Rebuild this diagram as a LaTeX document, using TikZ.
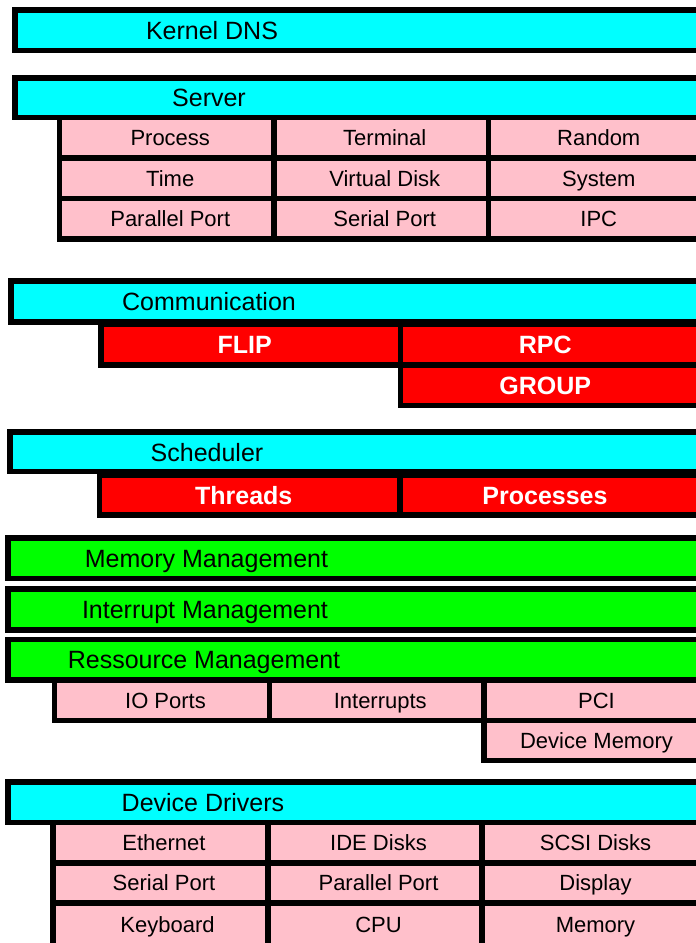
\documentclass[tikz,border=0pt]{standalone}
\usepackage{fontspec}
\setmainfont{Liberation Sans}
\usetikzlibrary{fit}
\definecolor{hcyan}{RGB}{0,255,255}
\definecolor{hpink}{RGB}{255,192,203}
\definecolor{hred}{RGB}{255,0,0}
\definecolor{hgreen}{RGB}{0,255,0}
\tikzset{
  box/.style={draw=black, line width=5.5pt, inner sep=0pt, outer sep=0pt},
  hdr/.style={box, fill=hcyan},
  gbox/.style={box, fill=hgreen},
  pbox/.style={box, fill=hpink},
  rbox/.style={box, fill=hred},
  htext/.style={font=\fontsize{25}{30}\selectfont, text=black, inner sep=0pt, text height=18pt, text depth=0pt},
  ptext/.style={font=\fontsize{22}{26}\selectfont, text=black, inner sep=0pt, text height=15.8pt, text depth=0pt, xshift=3.5pt},
  rtext/.style={font=\fontsize{25}{30}\selectfont\bfseries, text=white, inner sep=0pt, text height=18pt, text depth=0pt, xshift=-6pt},
}
\newcommand\cellbox[6]{\node[#6, fit={(#2,#3) (#4,#5)}] (#1) {};}
\newcommand\pcell[6]{\node[pbox, fit={(#2,#3) (#4,#5)}, label={[ptext]center:#6}] (#1) {};}
\newcommand\rcell[6]{\node[rbox, fit={(#2,#3) (#4,#5)}, label={[rtext]center:#6}] (#1) {};}
\begin{document}
\begin{tikzpicture}[x=1pt,y=-1pt]
\useasboundingbox (0,0) rectangle (696,943);
\clip (0,0) rectangle (696,943);

% Kernel DNS
\cellbox{kdns}{14.75}{9.75}{702}{50.25}{hdr}
\node[htext] (tkdns) at (212,30) {Kernel DNS};

% Server
\cellbox{server}{14.75}{77.75}{702}{117.5}{hdr}
\node[htext] (tserver) at (209,97.6) {Server};
\pcell{s11}{59.5}{117.5}{274}{158}{Process}
\pcell{s12}{274}{117.5}{488.5}{158}{Terminal}
\pcell{s13}{488.5}{117.5}{702}{158}{Random}
\pcell{s21}{59.5}{158}{274}{198.5}{Time}
\pcell{s22}{274}{158}{488.5}{198.5}{Virtual Disk}
\pcell{s23}{488.5}{158}{702}{198.5}{System}
\pcell{s31}{59.5}{198.5}{274}{239}{Parallel Port}
\pcell{s32}{274}{198.5}{488.5}{239}{Serial Port}
\pcell{s33}{488.5}{198.5}{702}{239}{IPC}

% Communication
\cellbox{comm}{10.75}{281}{702}{322}{hdr}
\node[htext] (tcomm) at (209,301.5) {Communication};
\rcell{flip}{101}{324.25}{400.5}{365}{FLIP}
\rcell{rpc}{400.5}{324.25}{702}{365}{RPC}
\rcell{group}{400.5}{365}{702}{405.5}{GROUP}

% Scheduler
\cellbox{sched}{9.75}{432}{702}{471.5}{hdr}
\node[htext] (tsched) at (207,452) {Scheduler};
\rcell{threads}{99.5}{475.25}{400}{515}{Threads}
\rcell{procs}{400}{475.25}{702}{515}{Processes}

% Management layers
\cellbox{mem}{8}{538}{702}{578.5}{gbox}
\node[htext] (tmem) at (206.5,558.25) {Memory Management};
\cellbox{intm}{8}{589}{702}{630}{gbox}
\node[htext] (tint) at (205,609.5) {Interrupt Management};
\cellbox{res}{8}{639.5}{702}{680}{gbox}
\node[htext] (tres) at (204,659.75) {Ressource Management};
\pcell{r11}{54.5}{680}{269.5}{720.5}{IO Ports}
\pcell{r12}{269.5}{680}{484}{720.5}{Interrupts}
\pcell{r13}{484}{680}{702}{720.5}{PCI}
\pcell{r23}{484}{720.5}{702}{760.5}{Device Memory}

% Device Drivers
\cellbox{dd}{8}{782}{702}{822.5}{hdr}
\node[htext] (tdd) at (203,802.25) {Device Drivers};
\pcell{d11}{53}{822.5}{268}{863}{Ethernet}
\pcell{d12}{268}{822.5}{482}{863}{IDE Disks}
\pcell{d13}{482}{822.5}{702}{863}{SCSI Disks}
\pcell{d21}{53}{863}{268}{903}{Serial Port}
\pcell{d22}{268}{863}{482}{903}{Parallel Port}
\pcell{d23}{482}{863}{702}{903}{Display}
\node[pbox, fit={(53,903) (268,952)}] (d31) {};
\node[ptext] (td31) at (164,924.5) {Keyboard};
\node[pbox, fit={(268,903) (482,952)}] (d32) {};
\node[ptext] (td32) at (375,924.5) {CPU};
\node[pbox, fit={(482,903) (702,952)}] (d33) {};
\node[ptext] (td33) at (592,924.5) {Memory};
\end{tikzpicture}
\end{document}
